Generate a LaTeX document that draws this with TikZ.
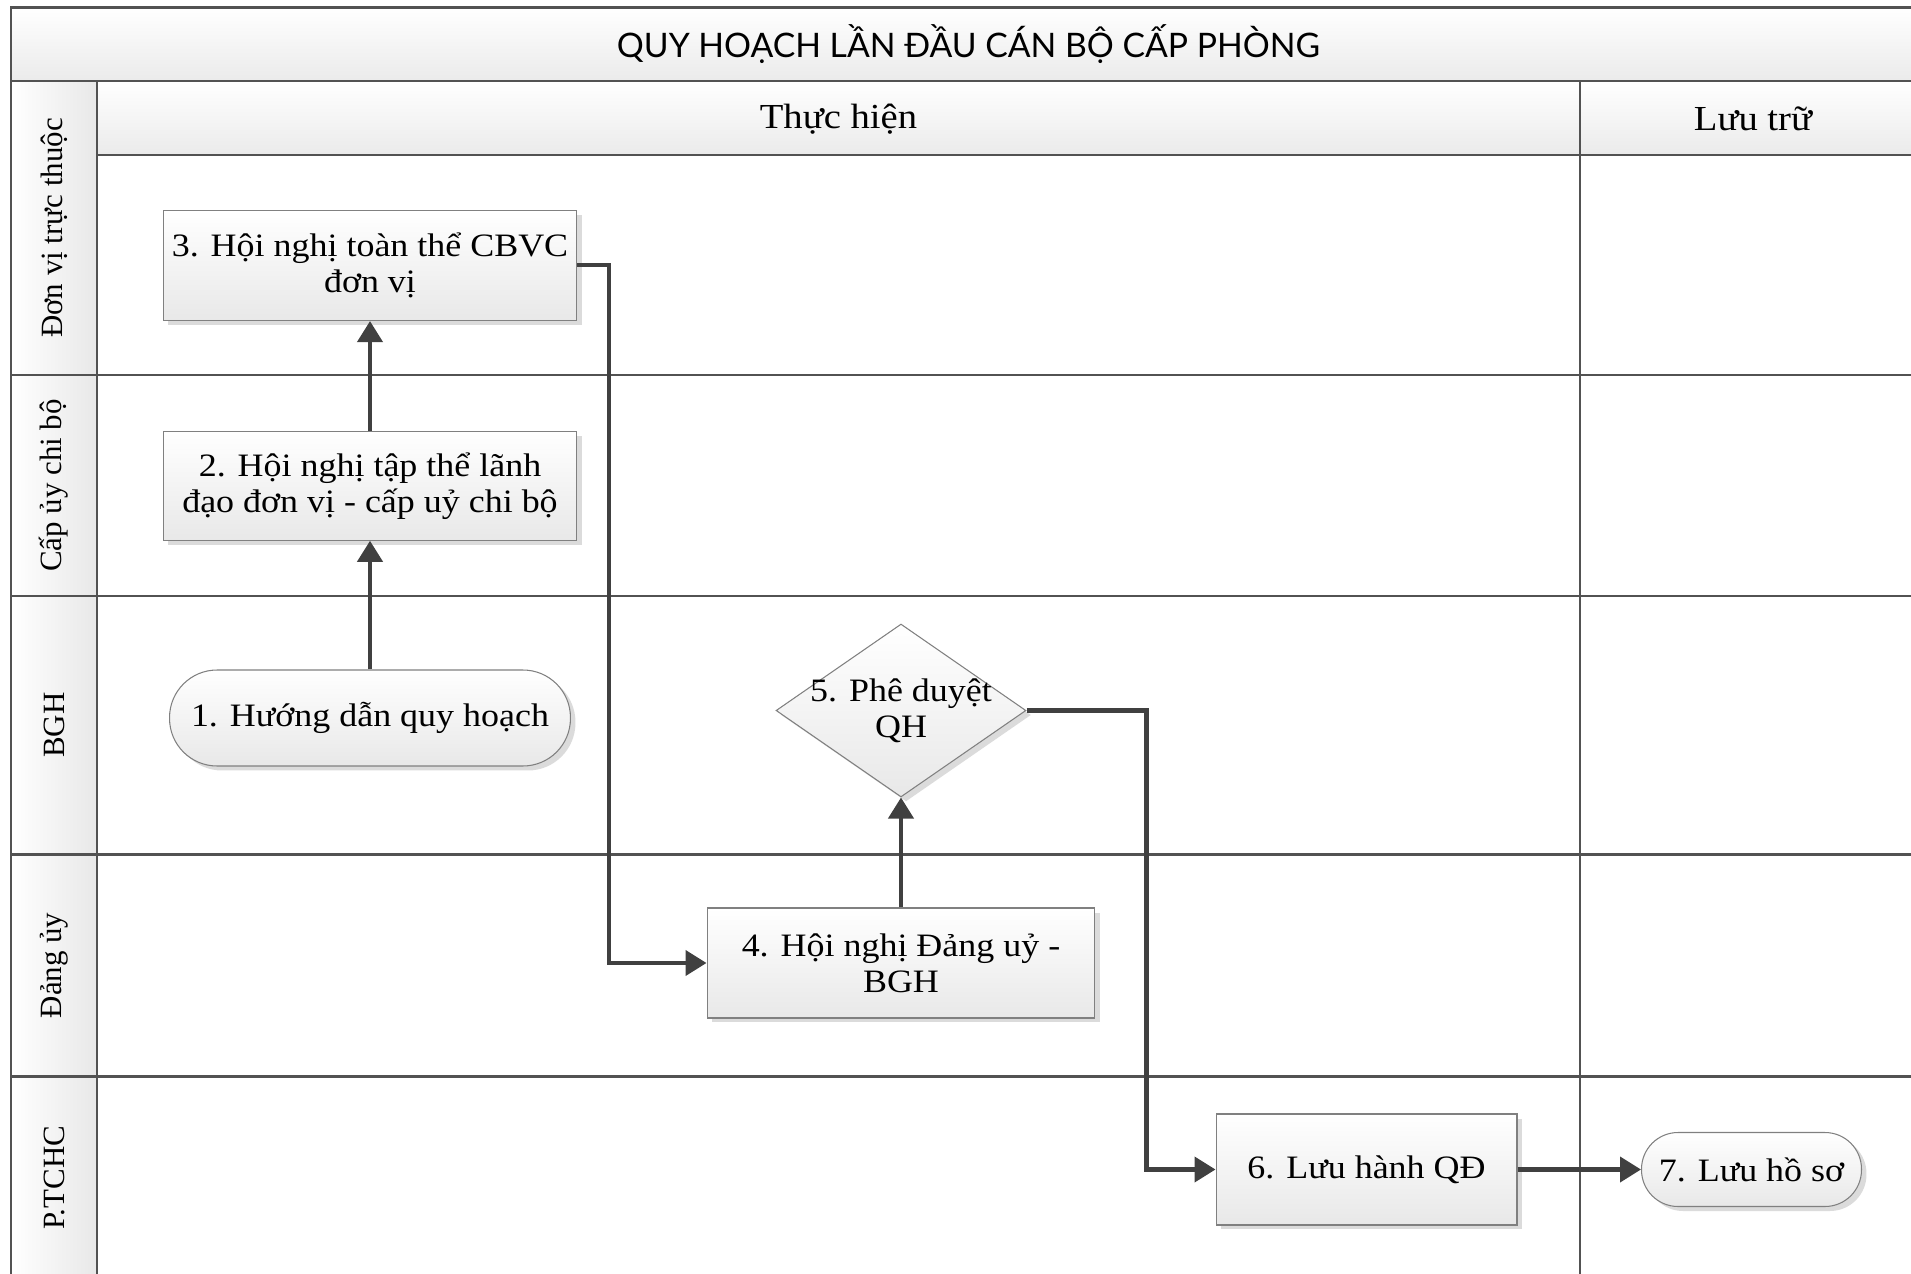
\documentclass[tikz,border=0pt]{standalone}
\usepackage{fontspec}
\setmainfont{Liberation Serif}[FakeStretch=1.1]
\newfontfamily\lanefamily{Liberation Serif}
\newfontfamily\titlefamily{Lato}
\usetikzlibrary{arrows.meta,shapes.geometric,shadows}
\newcommand\fBody{\fontsize{18.6pt}{20.5pt}\selectfont}
\newcommand\fHead{\fontsize{20pt}{24pt}\selectfont}
\newcommand\fLane{\lanefamily\fontsize{17.6pt}{20pt}\selectfont}
\newcommand\fTitle{\titlefamily\fontsize{19.2pt}{23pt}\selectfont}
\begin{document}
\begin{tikzpicture}[x=0.02cm,y=-0.02cm,
  frame/.style={draw=black!68, line width=1.2pt},
  shapebox/.style={draw=black!50, line width=0.6pt, top color=white, bottom color=black!9,
    drop shadow={shadow xshift=0.1cm, shadow yshift=-0.09cm, fill=black!14, opacity=1},
    align=center, inner sep=1pt, font=\fBody},
  procbox/.style={shapebox, rectangle},
  termbox/.style={shapebox, rectangle},
  decbox/.style={shapebox, diamond, inner sep=0pt},
  conn/.style={draw=black!75, line width=2.3pt, -{Triangle[length=0.42cm,width=0.5cm]}},
  lanelabel/.style={rotate=90, font=\fLane, inner sep=0pt},
]
\useasboundingbox (0,0) rectangle (1911,1274);
\begin{scope}
\clip (0,0) rectangle (1911,1274);
\path[top color=white, bottom color=black!8] (11,7.5) rectangle (1926,81);
\path[top color=white, bottom color=black!8] (97,81) rectangle (1926,155);
\path[left color=white, right color=black!9] (11,81) rectangle (97,1282);
\draw[frame] (11,1282) -- (11,7.5) -- (1926,7.5) -- (1926,1282) -- cycle;
\draw[frame] (11,81) -- (1926,81);
\draw[frame] (97,155) -- (1926,155);
\draw[frame] (97,81) -- (97,1282);
\draw[frame] (1580,81) -- (1580,1282);
\foreach \yy in {375,596,854.5,1076.5} \draw[frame] (11,\yy) -- (1926,\yy);
\end{scope}

% headers
\node[font=\fTitle] (t0) at (968.5,44) {QUY HOẠCH LẦN ĐẦU CÁN BỘ CẤP PHÒNG};
\node[font=\fHead] (h1) at (838.5,119) {Thực hiện};
\node[font=\fHead] (h2) at (1753,119) {Lưu trữ};

% lane labels
\node[lanelabel] (l1) at (54,228) {Đơn vị trực thuộc};
\node[lanelabel] (l2) at (54,485.5) {Cấp ủy chi bộ};
\node[lanelabel] (l3) at (54,725) {BGH};
\node[lanelabel] (l4) at (54,965.5) {Đảng ủy};
\node[lanelabel] (l5) at (54,1178) {P.TCHC};

% nodes
\node[procbox, minimum width=8.27cm, minimum height=2.21cm] (n3) at (370,265.3) {3. Hội nghị toàn thể CBVC\\đơn vị};
\node[procbox, minimum width=8.27cm, minimum height=2.17cm] (n2) at (370,486) {2. Hội nghị tập thể lãnh\\đạo đơn vị - cấp uỷ chi bộ};
\node[termbox, minimum width=8.02cm, minimum height=1.92cm, rounded corners=0.95cm] (n1) at (370,718) {1. Hướng dẫn quy hoạch};
\node[procbox, minimum width=7.76cm, minimum height=2.2cm] (n4) at (901,963) {4. Hội nghị Đảng uỷ -\\BGH};
\node[decbox, minimum width=5cm, minimum height=3.46cm] (n5) at (901,710.5) {};
\node[font=\fBody, align=center, inner sep=0pt] (n5t) at (901,711) {5. Phê duyệt\\QH};
\node[procbox, minimum width=6.02cm, minimum height=2.22cm] (n6) at (1366.5,1169.5) {6. Lưu hành QĐ};
\node[termbox, minimum width=4.4cm, minimum height=1.48cm, rounded corners=0.73cm] (n7) at (1751.5,1169.5) {7. Lưu hồ sơ};

% connectors
\coordinate (k1) at (609,0);
\coordinate (k2) at (1146.5,0);
\draw[conn] (n1.north) -- (n2.south);
\draw[conn] (n2.north) -- (n3.south);
\draw[conn] (n3.east) -| (k1 |- n4.west) -- (n4.west);
\draw[conn] (n4.north) -- (n5.south);
\draw[conn] (n5.east) -| (k2 |- n6.west) -- (n6.west);
\draw[conn] (n6.east) -- (n7.west);
\end{tikzpicture}
\end{document}
